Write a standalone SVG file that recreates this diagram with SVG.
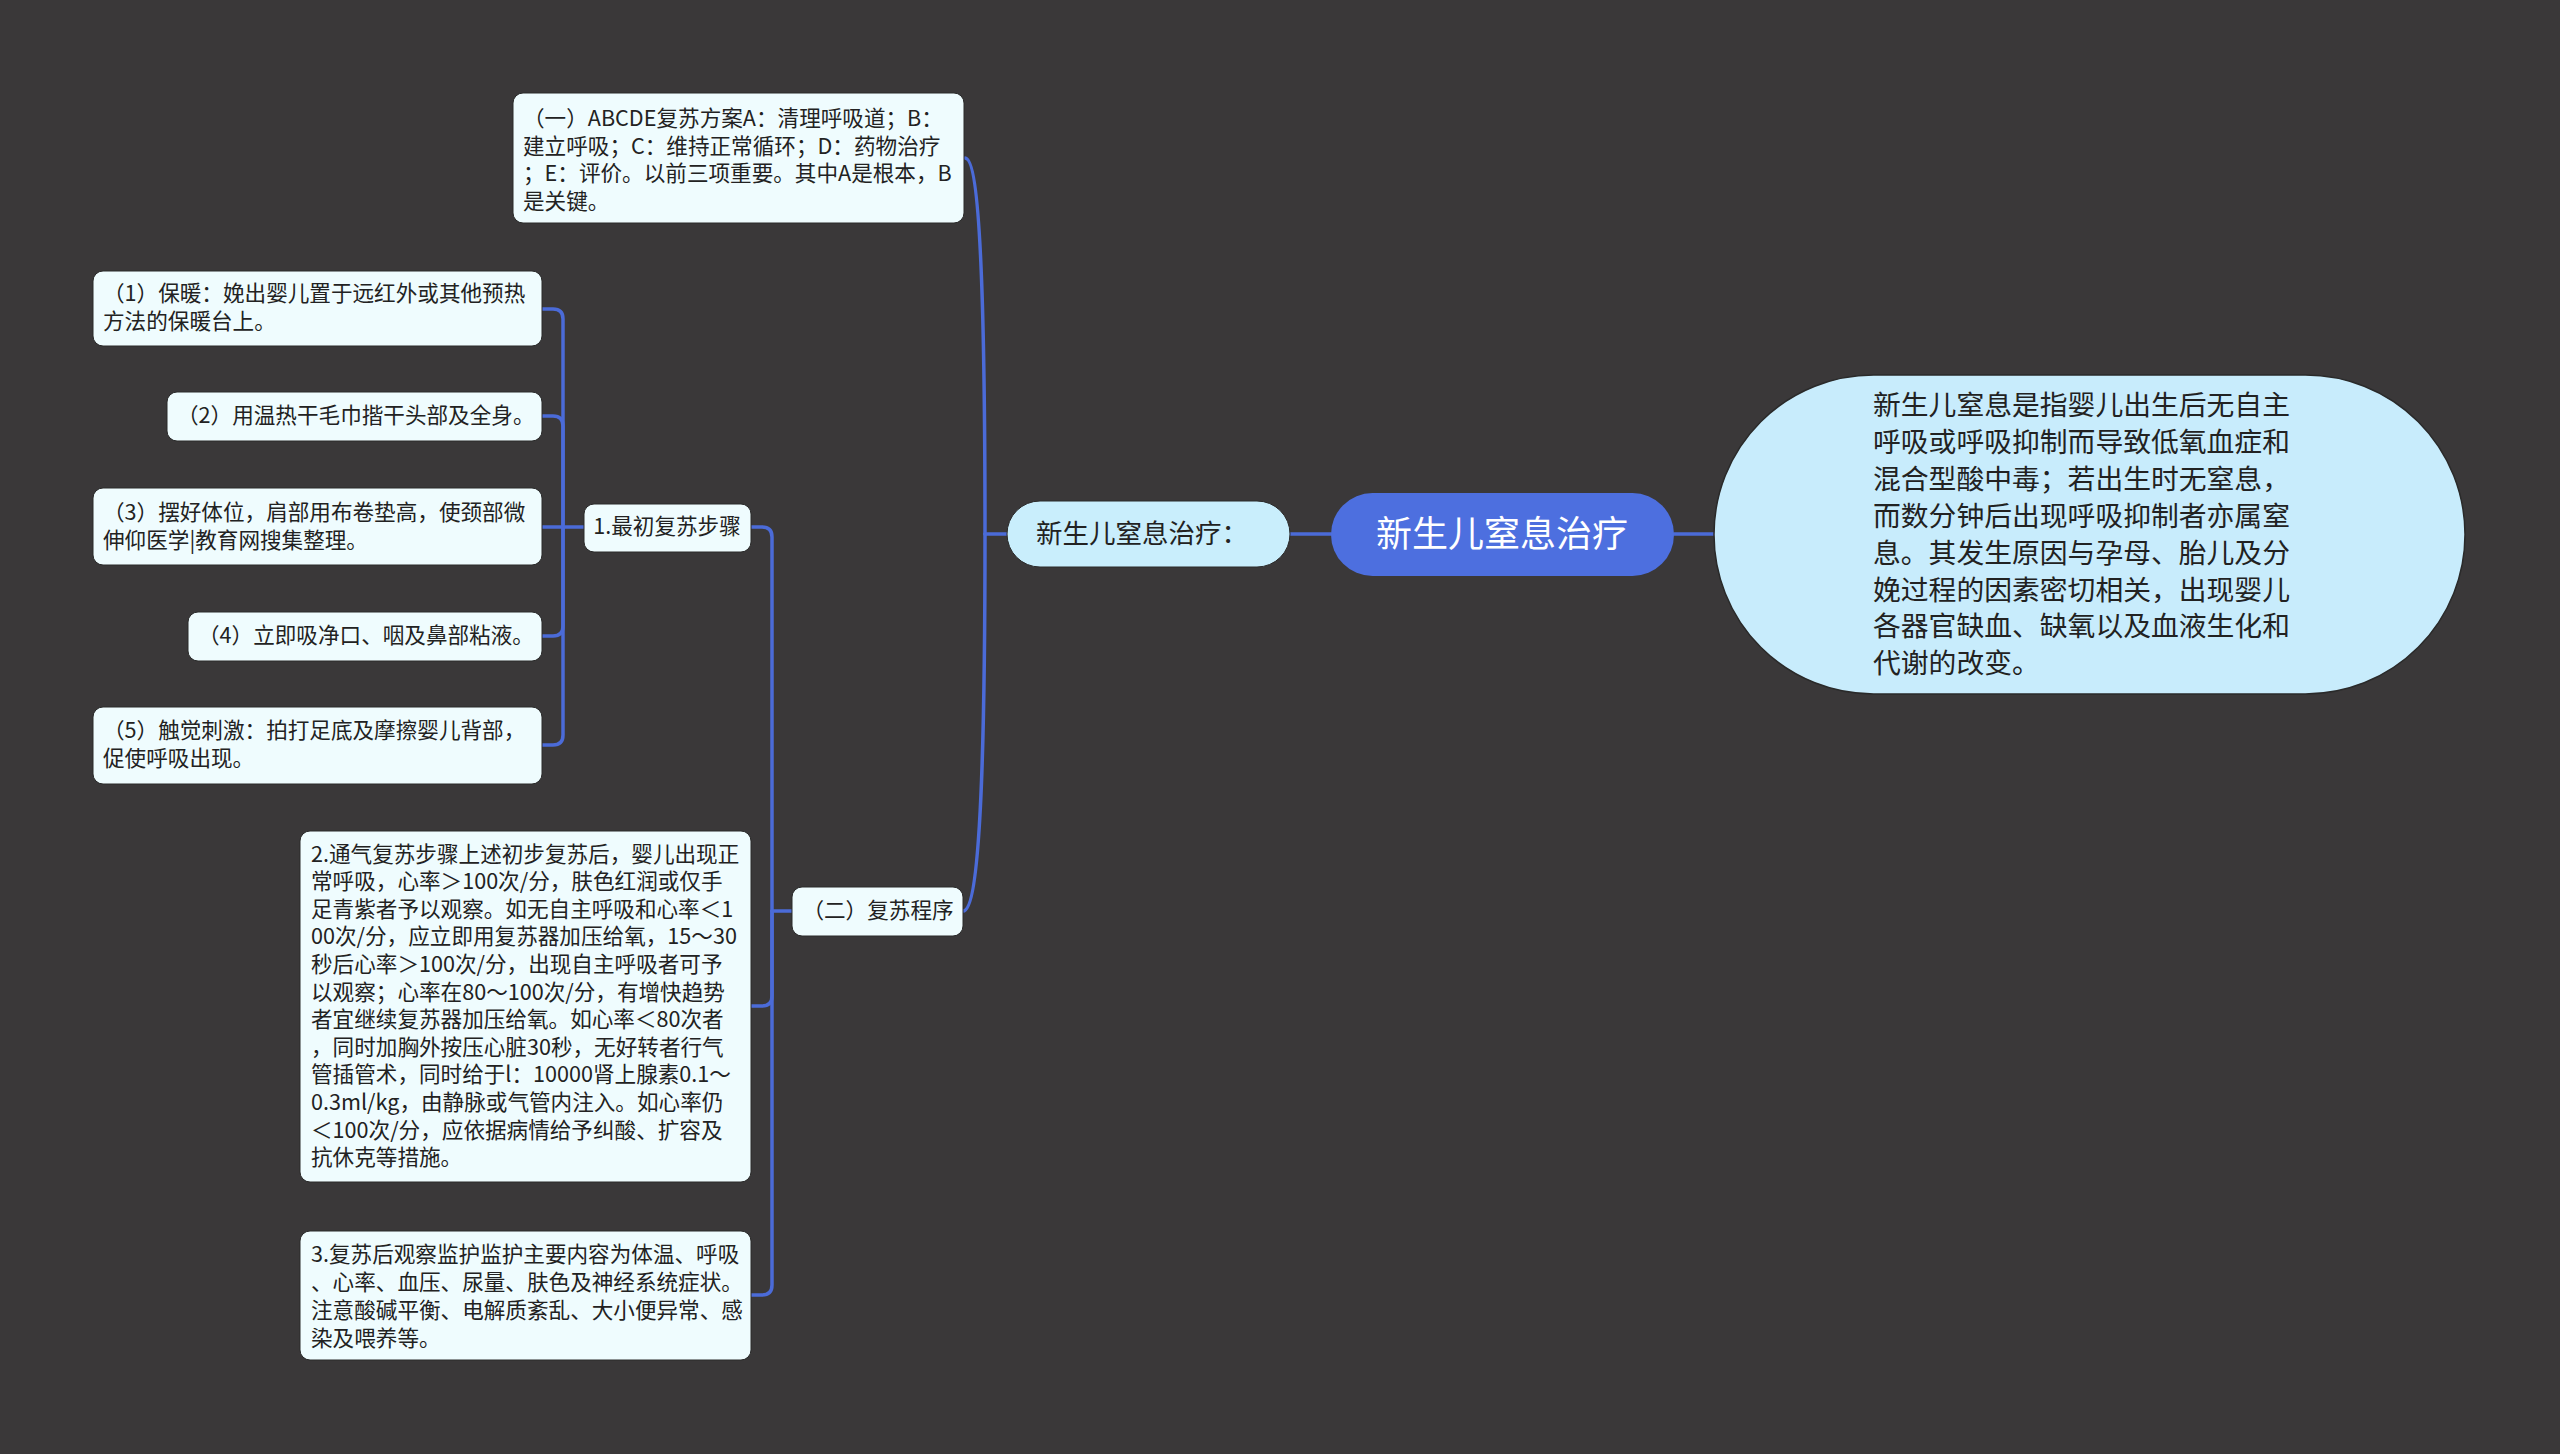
<svg xmlns="http://www.w3.org/2000/svg" width="2560" height="1454" viewBox="0 0 2560 1454">
<style>
.bg{fill:#3a3839}
.box{fill:#effcfe;stroke:#2a2a2a;stroke-width:1}
.sub{fill:#c9eefc;stroke:#2a2a2a;stroke-width:1}
.t{font-family:"Noto Sans CJK SC","Noto Sans",sans-serif;font-size:21.6px;fill:#222;dominant-baseline:central}
.t2{font-family:"Noto Sans CJK SC","Noto Sans",sans-serif;font-size:26.5px;fill:#222;dominant-baseline:central}
.t3{font-family:"Noto Sans CJK SC","Noto Sans",sans-serif;font-size:36px;fill:#ffffff;dominant-baseline:central}
.t4{font-family:"Noto Sans CJK SC","Noto Sans",sans-serif;font-size:27.8px;fill:#222;dominant-baseline:central}
.c{fill:none;stroke:#4b6bd8;stroke-width:3.5;stroke-linecap:round}
</style>
<rect class="bg" x="0" y="0" width="2560" height="1454"/>
<g id="connectors">
<path class="c" d="M1674 534 L1715 534"/>
<path class="c" d="M1290 534 L1331 534"/>
<path class="c" d="M1007 534 L985 534"/>
<path class="c" d="M985 534 C985 300 980 158 965 158"/>
<path class="c" d="M985 534 C985 760 980 911 963 911"/>
<path class="c" d="M792 911 L772 911"/>
<path class="c" d="M772 911 L772 537 Q772 527 762 527 L751 527"/>
<path class="c" d="M772 911 L772 996 Q772 1006 762 1006 L751 1006"/>
<path class="c" d="M772 911 L772 1285 Q772 1295 762 1295 L751 1295"/>
<path class="c" d="M584 527 L563 527"/>
<path class="c" d="M563 527 L563 319 Q563 309 553 309 L542 309"/>
<path class="c" d="M563 527 L563 426 Q563 416 553 416 L542 416"/>
<path class="c" d="M563 527 L542 527"/>
<path class="c" d="M563 527 L563 626 Q563 636 553 636 L542 636"/>
<path class="c" d="M563 527 L563 735 Q563 745 553 745 L542 745"/>
</g>
<g id="root">
<rect x="1331" y="493" width="343" height="83" rx="41.5" fill="#4d6fdf"/>
<text class="t3" x="1502" y="531" text-anchor="middle">新生儿窒息治疗</text>
</g>
<g id="definition">
<rect x="1714" y="375" width="751" height="319" rx="159.5" fill="#c8ecfc" stroke="#2a2a2a" stroke-width="1.5"/>
<text class="t4" x="1873" y="403">新生儿窒息是指婴儿出生后无自主</text>
<text class="t4" x="1873" y="440">呼吸或呼吸抑制而导致低氧血症和</text>
<text class="t4" x="1873" y="477">混合型酸中毒；若出生时无窒息，</text>
<text class="t4" x="1873" y="514">而数分钟后出现呼吸抑制者亦属窒</text>
<text class="t4" x="1873" y="551">息。其发生原因与孕母、胎儿及分</text>
<text class="t4" x="1873" y="588">娩过程的因素密切相关，出现婴儿</text>
<text class="t4" x="1873" y="624">各器官缺血、缺氧以及血液生化和</text>
<text class="t4" x="1873" y="661">代谢的改变。</text>
</g>
<g id="treatment">
<rect class="sub" x="1007" y="501" width="283" height="66" rx="33"/>
<text class="t2" x="1142" y="531" text-anchor="middle">新生儿窒息治疗：</text>
</g>
<g id="abcde">
<rect class="box" x="513" y="93" width="451" height="130" rx="10"/>
<text class="t" x="523" y="116">（一）ABCDE复苏方案A：清理呼吸道；B：</text>
<text class="t" x="523" y="144">建立呼吸；C：维持正常循环；D：药物治疗</text>
<text class="t" x="523" y="171">；E：评价。以前三项重要。其中A是根本，B</text>
<text class="t" x="523" y="199">是关键。</text>
</g>
<g id="procedure">
<rect class="box" x="792" y="887" width="171" height="49" rx="10"/>
<text class="t" x="878" y="908" text-anchor="middle">（二）复苏程序</text>
</g>
<g id="step1">
<rect class="box" x="584" y="504" width="167" height="48" rx="10"/>
<text class="t" x="667" y="524" text-anchor="middle">1.最初复苏步骤</text>
</g>
<g id="s1">
<rect class="box" x="93" y="271" width="449" height="75" rx="10"/>
<text class="t" x="103" y="291">（1）保暖：娩出婴儿置于远红外或其他预热</text>
<text class="t" x="103" y="319">方法的保暖台上。</text>
</g>
<g id="s2">
<rect class="box" x="167" y="392" width="375" height="49" rx="10"/>
<text class="t" x="177" y="413">（2）用温热干毛巾揩干头部及全身。</text>
</g>
<g id="s3">
<rect class="box" x="93" y="488" width="449" height="77" rx="10"/>
<text class="t" x="103" y="510">（3）摆好体位，肩部用布卷垫高，使颈部微</text>
<text class="t" x="103" y="538">伸仰医学|教育网搜集整理。</text>
</g>
<g id="s4">
<rect class="box" x="188" y="612" width="354" height="49" rx="10"/>
<text class="t" x="198" y="633">（4）立即吸净口、咽及鼻部粘液。</text>
</g>
<g id="s5">
<rect class="box" x="93" y="707" width="449" height="77" rx="10"/>
<text class="t" x="103" y="728">（5）触觉刺激：拍打足底及摩擦婴儿背部，</text>
<text class="t" x="103" y="756">促使呼吸出现。</text>
</g>
<g id="step2">
<rect class="box" x="300" y="831" width="451" height="351" rx="10"/>
<text class="t" x="311" y="852">2.通气复苏步骤上述初步复苏后，婴儿出现正</text>
<text class="t" x="311" y="879.6">常呼吸，心率＞100次/分，肤色红润或仅手</text>
<text class="t" x="311" y="907.2">足青紫者予以观察。如无自主呼吸和心率＜1</text>
<text class="t" x="311" y="934.8">00次/分，应立即用复苏器加压给氧，15～30</text>
<text class="t" x="311" y="962.4">秒后心率＞100次/分，出现自主呼吸者可予</text>
<text class="t" x="311" y="990">以观察；心率在80～100次/分，有增快趋势</text>
<text class="t" x="311" y="1017.6">者宜继续复苏器加压给氧。如心率＜80次者</text>
<text class="t" x="311" y="1045.2">，同时加胸外按压心脏30秒，无好转者行气</text>
<text class="t" x="311" y="1072.8">管插管术，同时给于l：10000肾上腺素0.1～</text>
<text class="t" x="311" y="1100.4">0.3ml/kg，由静脉或气管内注入。如心率仍</text>
<text class="t" x="311" y="1128">＜100次/分，应依据病情给予纠酸、扩容及</text>
<text class="t" x="311" y="1155.6">抗休克等措施。</text>
</g>
<g id="step3">
<rect class="box" x="300" y="1231" width="451" height="129" rx="10"/>
<text class="t" x="311" y="1252">3.复苏后观察监护监护主要内容为体温、呼吸</text>
<text class="t" x="311" y="1280">、心率、血压、尿量、肤色及神经系统症状。</text>
<text class="t" x="311" y="1308">注意酸碱平衡、电解质紊乱、大小便异常、感</text>
<text class="t" x="311" y="1336">染及喂养等。</text>
</g>
</svg>
